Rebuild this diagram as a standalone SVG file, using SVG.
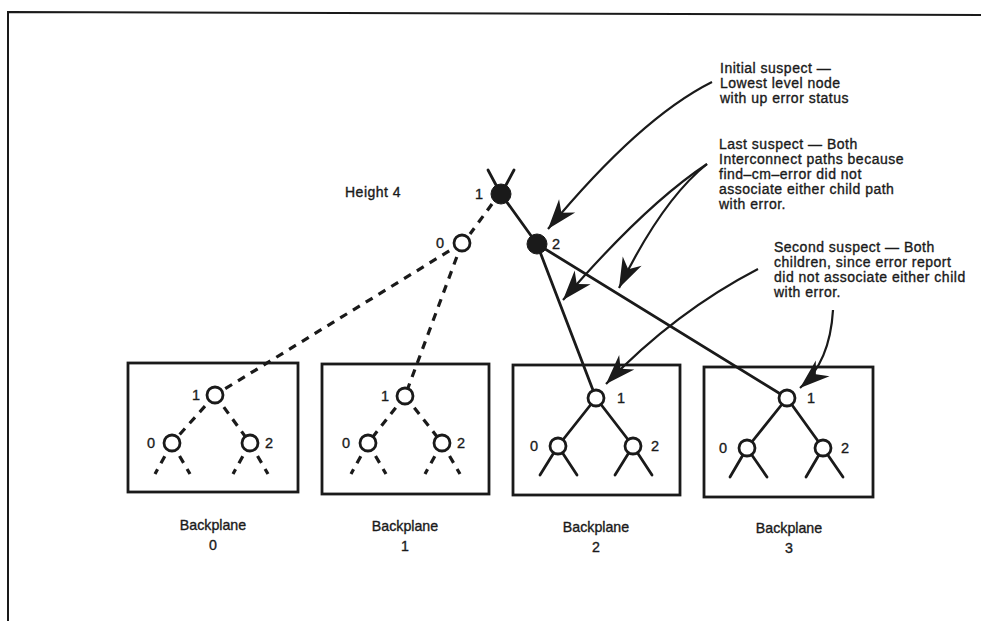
<svg xmlns="http://www.w3.org/2000/svg" width="981" height="621" viewBox="0 0 981 621">
  <style>
    text { font-family: "Liberation Sans", Arial, sans-serif; fill: #1a1a1a; stroke: #1a1a1a; stroke-width: 0.35px; }
    .note { font-size: 14px; letter-spacing: 0.5px; }
    .num { font-size: 14.5px; }
    .cap { font-size: 14.2px; text-anchor: middle; }
    .frame { fill: none; stroke: #1a1a1a; stroke-width: 2; }
    .box { fill: none; stroke: #1a1a1a; stroke-width: 2.8; }
    .link { fill: none; stroke: #1a1a1a; stroke-width: 2.8; stroke-linecap: round; }
    .dash { fill: none; stroke: #1a1a1a; stroke-width: 3.2; stroke-dasharray: 8 7; }
    .open { fill: #fff; stroke: #1a1a1a; stroke-width: 2.8; }
    .solid { fill: #1a1a1a; stroke: #1a1a1a; stroke-width: 1; }
    .pointer { fill: none; stroke: #1a1a1a; stroke-width: 2.2; }
  </style>
  <defs>
    <marker id="barb" markerUnits="userSpaceOnUse" markerWidth="36" markerHeight="28" viewBox="-32 -14 36 28" refX="0" refY="0" orient="auto">
      <path d="M0,0 L-30,-10.5 L-21,0 L-30,10.5 Z" fill="#1a1a1a"/>
    </marker>
  </defs>

  <rect width="981" height="621" fill="#fff"/>

  <!-- page frame -->
  <path class="frame" d="M8,621 L8,12 L981,15"/>

  <!-- connectors -->
  <g id="connectors">
    <!-- upper level -->
    <line class="link" x1="496" y1="185" x2="488" y2="170"/>
    <line class="link" x1="506" y1="185" x2="514" y2="170"/>
    <line class="link" x1="501" y1="194" x2="537" y2="244"/>
    <line class="dash" x1="492" y1="204" x2="470" y2="234"/>
    <line class="link" x1="537" y1="244" x2="596" y2="398"/>
    <line class="link" x1="537" y1="244" x2="787" y2="398"/>
    <line class="dash" x1="462" y1="243" x2="215" y2="395"/>
    <line class="dash" x1="462" y1="243" x2="405" y2="396"/>

    <!-- backplane 0 -->
    <line class="dash" x1="215" y1="395" x2="172" y2="443"/>
    <line class="dash" x1="215" y1="395" x2="250" y2="443"/>
    <line class="dash" x1="172" y1="443" x2="155" y2="474"/>
    <line class="dash" x1="172" y1="443" x2="190" y2="474"/>
    <line class="dash" x1="250" y1="443" x2="233" y2="474"/>
    <line class="dash" x1="250" y1="443" x2="268" y2="474"/>

    <!-- backplane 1 -->
    <line class="dash" x1="405" y1="396" x2="368" y2="443"/>
    <line class="dash" x1="405" y1="396" x2="442" y2="443"/>
    <line class="dash" x1="368" y1="443" x2="351" y2="474"/>
    <line class="dash" x1="368" y1="443" x2="386" y2="474"/>
    <line class="dash" x1="442" y1="443" x2="425" y2="474"/>
    <line class="dash" x1="442" y1="443" x2="460" y2="474"/>

    <!-- backplane 2 -->
    <line class="link" x1="596" y1="398" x2="558" y2="446"/>
    <line class="link" x1="596" y1="398" x2="633" y2="446"/>
    <line class="link" x1="558" y1="446" x2="540" y2="475"/>
    <line class="link" x1="558" y1="446" x2="577" y2="475"/>
    <line class="link" x1="633" y1="446" x2="615" y2="475"/>
    <line class="link" x1="633" y1="446" x2="652" y2="475"/>

    <!-- backplane 3 -->
    <line class="link" x1="787" y1="398" x2="747" y2="448"/>
    <line class="link" x1="787" y1="398" x2="823" y2="448"/>
    <line class="link" x1="747" y1="448" x2="730" y2="477"/>
    <line class="link" x1="747" y1="448" x2="767" y2="477"/>
    <line class="link" x1="823" y1="448" x2="806" y2="477"/>
    <line class="link" x1="823" y1="448" x2="843" y2="477"/>

    <!-- annotation pointers -->
    <path class="pointer" marker-end="url(#barb)" d="M712,82 Q640,118 548,229"/>
    <path class="pointer" marker-end="url(#barb)" d="M707,164 Q645,205 563,300"/>
    <path class="pointer" marker-end="url(#barb)" d="M707,164 Q662,200 619,288"/>
    <path class="pointer" marker-end="url(#barb)" d="M758,269 Q675,312 606,384"/>
    <path class="pointer" marker-end="url(#barb)" d="M833,310 Q830,362 800,388"/>
  </g>

  <!-- height 4 switch nodes -->
  <g id="h4-node1">
    <circle class="solid" cx="501" cy="194" r="10"/>
    <text class="num" x="475" y="199">1</text>
  </g>
  <g id="h4-node2">
    <circle class="solid" cx="537" cy="244" r="10"/>
    <text class="num" x="552" y="249">2</text>
  </g>
  <g id="h4-node0">
    <circle class="open" cx="462" cy="243" r="8"/>
    <text class="num" x="436" y="248">0</text>
  </g>
  <text class="note" x="345" y="197">Height 4</text>

  <!-- backplane 0 -->
  <g id="backplane0">
    <rect class="box" x="128" y="363" width="170" height="129"/>
    <circle class="open" cx="215" cy="395" r="8"/>
    <circle class="open" cx="172" cy="443" r="8"/>
    <circle class="open" cx="250" cy="443" r="8"/>
    <text class="num" x="192" y="400">1</text>
    <text class="num" x="147" y="448">0</text>
    <text class="num" x="265" y="448">2</text>
    <text class="cap" x="213" y="530">Backplane</text>
    <text class="cap" x="213" y="550">0</text>
  </g>

  <!-- backplane 1 -->
  <g id="backplane1">
    <rect class="box" x="322" y="364" width="167" height="130"/>
    <circle class="open" cx="405" cy="396" r="8"/>
    <circle class="open" cx="368" cy="443" r="8"/>
    <circle class="open" cx="442" cy="443" r="8"/>
    <text class="num" x="381" y="401">1</text>
    <text class="num" x="342" y="448">0</text>
    <text class="num" x="457" y="448">2</text>
    <text class="cap" x="405" y="531">Backplane</text>
    <text class="cap" x="405" y="551">1</text>
  </g>

  <!-- backplane 2 -->
  <g id="backplane2">
    <rect class="box" x="513" y="365" width="167" height="130"/>
    <circle class="open" cx="596" cy="398" r="8"/>
    <circle class="open" cx="558" cy="446" r="8"/>
    <circle class="open" cx="633" cy="446" r="8"/>
    <text class="num" x="617" y="403">1</text>
    <text class="num" x="530" y="451">0</text>
    <text class="num" x="651" y="451">2</text>
    <text class="cap" x="596" y="532">Backplane</text>
    <text class="cap" x="596" y="552">2</text>
  </g>

  <!-- backplane 3 -->
  <g id="backplane3">
    <rect class="box" x="704" y="367" width="169" height="130"/>
    <circle class="open" cx="787" cy="398" r="8"/>
    <circle class="open" cx="747" cy="448" r="8"/>
    <circle class="open" cx="823" cy="448" r="8"/>
    <text class="num" x="807" y="403">1</text>
    <text class="num" x="719" y="453">0</text>
    <text class="num" x="841" y="453">2</text>
    <text class="cap" x="789" y="533">Backplane</text>
    <text class="cap" x="789" y="553">3</text>
  </g>

  <!-- annotations -->
  <g id="note-initial">
    <text class="note" x="720" y="73">Initial suspect —</text>
    <text class="note" x="720" y="88">Lowest level node</text>
    <text class="note" x="720" y="103">with up error status</text>
  </g>
  <g id="note-last">
    <text class="note" x="719" y="149">Last suspect — Both</text>
    <text class="note" x="719" y="164">Interconnect paths because</text>
    <text class="note" x="719" y="179">find–cm–error did not</text>
    <text class="note" x="719" y="194">associate either child path</text>
    <text class="note" x="719" y="209">with error.</text>
  </g>
  <g id="note-second">
    <text class="note" x="774" y="252">Second suspect — Both</text>
    <text class="note" x="774" y="267">children, since error report</text>
    <text class="note" x="774" y="282">did not associate either child</text>
    <text class="note" x="774" y="297">with error.</text>
  </g>
</svg>
